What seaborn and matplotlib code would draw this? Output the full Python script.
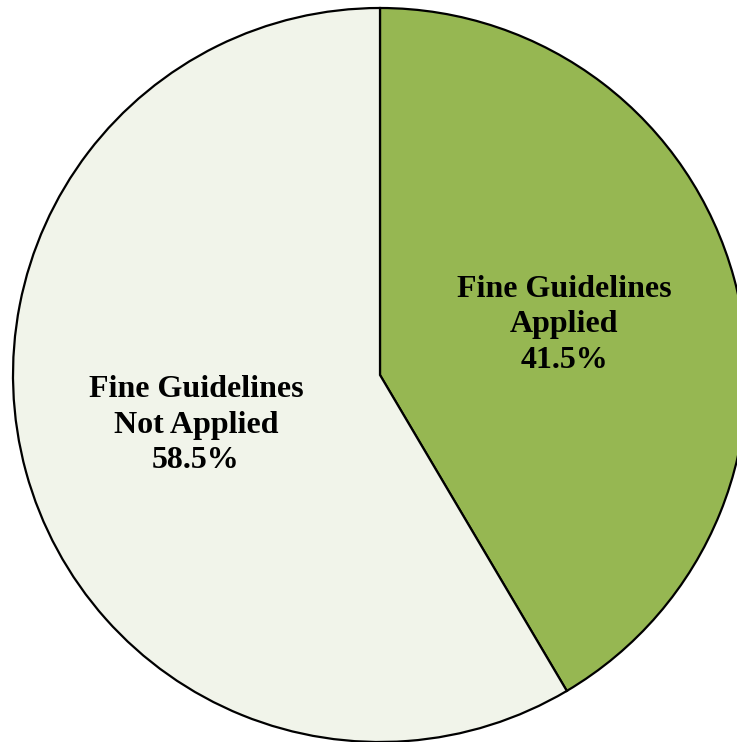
import matplotlib
matplotlib.use("Agg")
import matplotlib.pyplot as plt
import seaborn as sns

# Data
categories = ["Fine Guidelines\nApplied", "Fine Guidelines\nNot Applied"]
shares = [41.5, 58.5]
colors = ["#96b752", "#f1f4ea"]

sns.set_style("white")
plt.rcParams['font.family'] = ['Liberation Serif', 'DejaVu Serif']

fig = plt.figure(figsize=(7.37, 7.42), dpi=100)
ax = fig.add_axes([0, 0, 1, 1])

labels = [f"{c}\n{v}%" for c, v in zip(categories, shares)]
wedges, texts = ax.pie(shares, labels=labels, colors=colors, startangle=90,
                       counterclock=False, labeldistance=0.52,
                       wedgeprops=dict(edgecolor="black", linewidth=1.6))
for t in texts:
    t.set_ha("center")
    t.set_va("center")
    t.set_fontsize(23)
    t.set_fontweight("bold")
    t.set_color("black")
    t.set_linespacing(1.3)

# pixel-based framing: centre at (380, 375), radius 367
r = 367.0
ax.set_xlim(-380 / r, (737 - 380) / r)
ax.set_ylim(-(742 - 375) / r, 375 / r)
ax.set_aspect("auto")
ax.axis("off")

fig.savefig("out.png", dpi=100)
